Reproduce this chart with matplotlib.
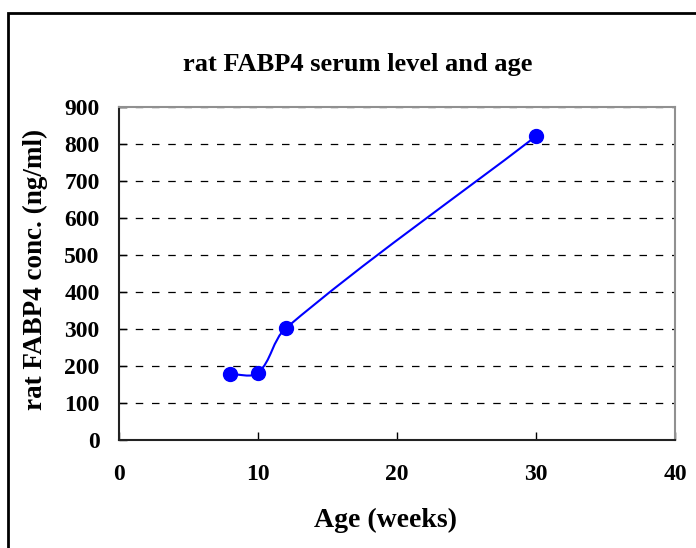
import math
import matplotlib.pyplot as plt
from matplotlib.path import Path
from matplotlib.patches import PathPatch, Rectangle

# data
age = [8, 10, 12, 30]
fabp4 = [178, 182, 302, 821]
x_ticks = [0, 10, 20, 30, 40]
y_ticks = [0, 100, 200, 300, 400, 500, 600, 700, 800, 900]

plt.rcParams['font.family'] = ['Liberation Serif', 'DejaVu Serif']
plt.rcParams['font.weight'] = 'bold'

fig = plt.figure(figsize=(6.96, 5.48), dpi=100)
fig.patch.set_facecolor('white')

# outer chart frame (runs off the right and bottom edges)
fig.patches.append(Rectangle((8 / 696, -0.05), 1.2, 1 - 13 / 548 + 0.05,
                             transform=fig.transFigure, fill=False,
                             edgecolor='black', linewidth=2))

ax = fig.add_axes([119 / 696, 1 - 440 / 548, 556 / 696, 333 / 548])
ax.set_xlim(0, 40)
ax.set_ylim(0, 900)
ax.set_xticks(x_ticks)
ax.set_yticks(y_ticks)
ax.tick_params(direction='in', length=6, width=1, labelsize=17, colors='black')
ax.tick_params(axis='x', pad=17)
ax.tick_params(axis='y', pad=14)
for lab in ax.get_xticklabels() + ax.get_yticklabels():
    lab.set_fontweight('bold')

ax.yaxis.grid(True, linestyle=(0, (6, 7)), color='black', linewidth=0.9)
ax.set_axisbelow(True)
for s in ['left', 'bottom']:
    ax.spines[s].set_color('#222222')
    ax.spines[s].set_linewidth(1.5)
for s in ['top', 'right']:
    ax.spines[s].set_color('#909090')
    ax.spines[s].set_linewidth(1.5)

# smoothed line like excel: bezier segments with chord-length tangents,
# worked out in screen-like units so the axis scales don't distort it
sx = 556 / 40
sy = 333 / 900
pts = [(a * sx, b * sy) for a, b in zip(age, fabp4)]
n = len(pts)


def dist(p, q):
    return math.hypot(q[0] - p[0], q[1] - p[1])


tang = []
for i in range(n):
    a = pts[max(i - 1, 0)]
    b = pts[min(i + 1, n - 1)]
    d = dist(a, b)
    tang.append(((b[0] - a[0]) / d, (b[1] - a[1]) / d))

verts = [(age[0], fabp4[0])]
codes = [Path.MOVETO]
for i in range(n - 1):
    L = dist(pts[i], pts[i + 1]) / 3
    c1 = (pts[i][0] + tang[i][0] * L, pts[i][1] + tang[i][1] * L)
    c2 = (pts[i + 1][0] - tang[i + 1][0] * L, pts[i + 1][1] - tang[i + 1][1] * L)
    for c in (c1, c2, pts[i + 1]):
        verts.append((c[0] / sx, c[1] / sy))
    codes += [Path.CURVE4] * 3
ax.add_patch(PathPatch(Path(verts, codes), fill=False, edgecolor='#0000ff',
                       linewidth=1.5, zorder=3))
ax.plot(age, fabp4, linestyle='none', marker='o', markersize=10,
        color='#0000ff', zorder=4, clip_on=False)

fig.text(0.514, 1 - 65 / 548, 'rat FABP4 serum level and age', ha='center',
         va='center', fontsize=19, fontweight='bold')
fig.text(35 / 696, 0.509, 'rat FABP4 conc. (ng/ml)', ha='center', va='center',
         rotation=90, fontsize=19.5, fontweight='bold')
fig.text(386 / 696, 1 - 520 / 548, 'Age (weeks)', ha='center', va='center',
         fontsize=20, fontweight='bold')

fig.savefig('out.png', dpi=100)
